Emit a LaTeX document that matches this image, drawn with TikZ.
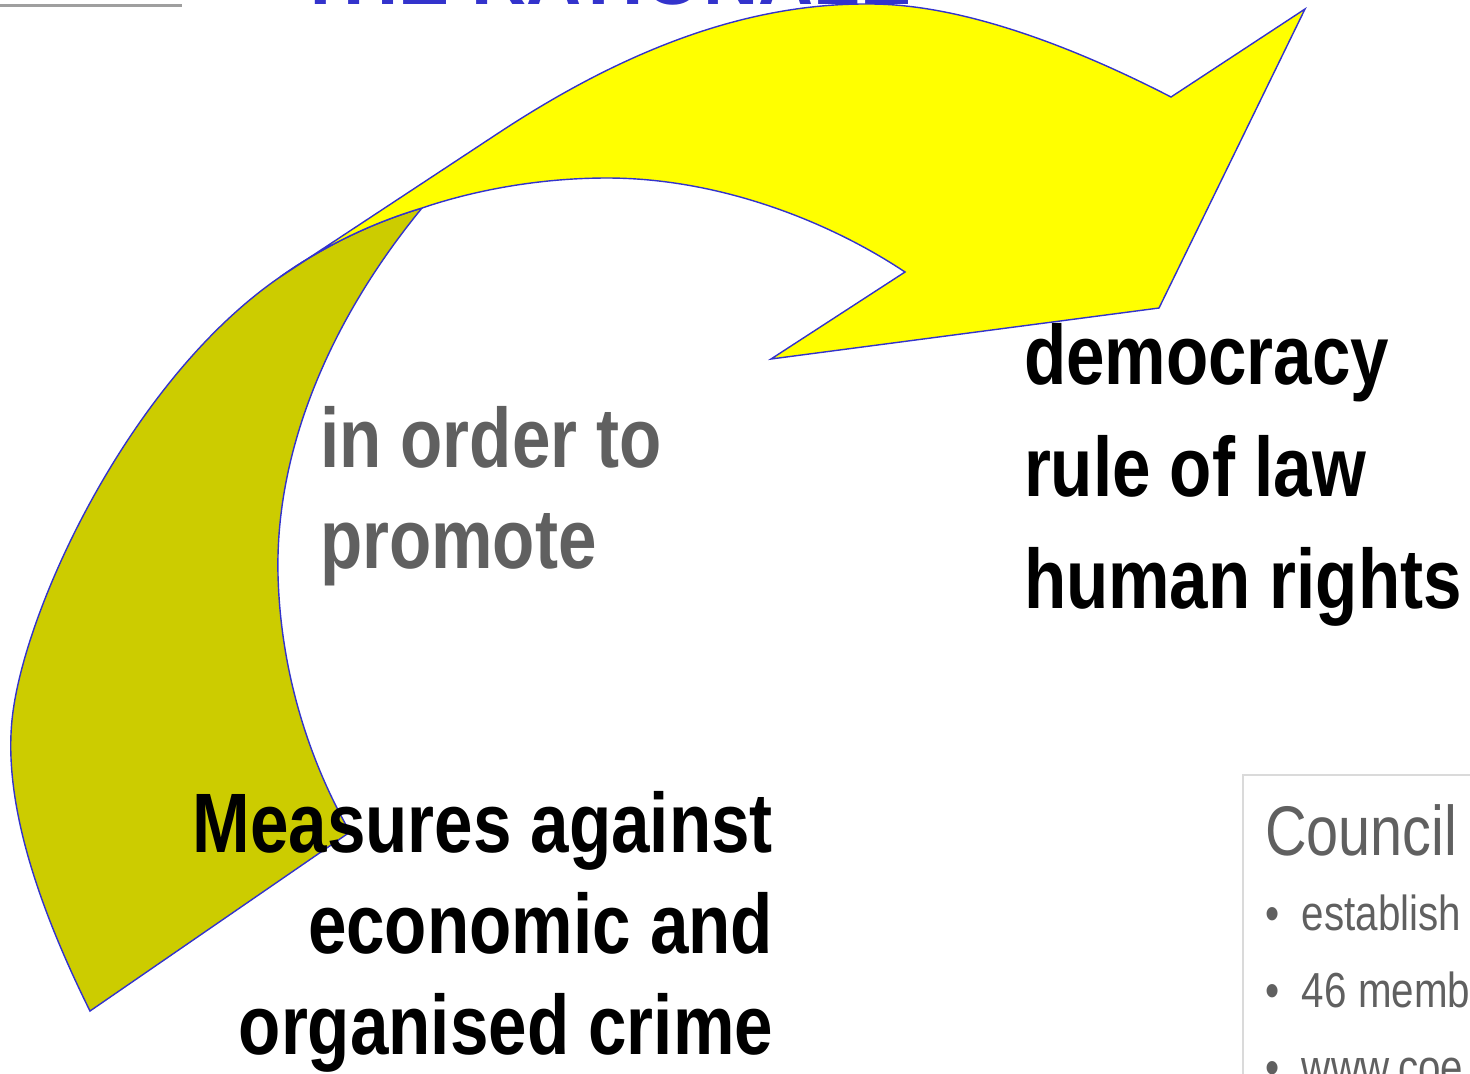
\documentclass[tikz,border=0pt]{standalone}
\usepackage{fontspec}
\setmainfont{Liberation Sans}
\newfontfamily\narrowfont[FakeStretch=0.82]{Liberation Sans}
\usetikzlibrary{positioning}
\definecolor{arrowyellow}{HTML}{FFFF00}
\definecolor{arrowshade}{HTML}{CCCC00}
\definecolor{arrowline}{HTML}{3333CC}
\definecolor{textgray}{HTML}{606060}
\definecolor{framegray}{HTML}{DADADA}
\newcommand{\infobullet}{\textbullet\hspace{13pt}}
\tikzset{
	every node/.append style={
		inner sep=0pt,
		outer sep=0pt,
	},
	heading/.append style={
		text=arrowline,
		font={\bfseries\fontsize{43.5}{50}\selectfont},
	},
	labe/.append style={
		font={\narrowfont\bfseries\fontsize{48}{57.3}\selectfont},
	},
	wide/.append style={
		font={\narrowfont\bfseries\fontsize{48}{63.5}\selectfont},
	},
	band/.append style={
		draw=arrowline,
		line width=0.8pt,
		line join=miter,
	},
	infobox/.append style={
		draw=framegray,
		line width=1.1pt,
	},
	infohead/.append style={
		text=textgray,
		font={\narrowfont\fontsize{40}{48}\selectfont},
	},
	infolist/.append style={
		text=textgray,
		align=left,
		font={\narrowfont\fontsize{28}{43.7}\selectfont},
	},
}

\begin{document}
\begin{tikzpicture}[x=0.02cm, y=-0.02cm]
\useasboundingbox (0,0) rectangle (1470,1073);

% header remains
\draw[draw=gray!75, line width=1.7pt] (0,5) -- (182,5);
\node[heading, anchor=base west] (title) at (297,4) {THE RATIONALE};

% back face of the arrow
\draw[band, fill=arrowshade] (280,277) .. controls (325,245) and (375,222) .. (422,208)
	.. controls (330,320) and (275,450) .. (278,575)
	.. controls (281,690) and (320,780) .. (350,832)
	-- (90,1011)
	.. controls (35,900) and (4,800) .. (12,720)
	.. controls (23,610) and (130,380) .. cycle;

% front face with the head
\draw[band, fill=arrowyellow] (280,277) -- (500,132)
	.. controls (640,40) and (760,3) .. (870,4)
	.. controls (960,4) and (1070,45) .. (1171,97)
	-- (1305,9) -- (1159,308) -- (771,359) -- (905,272)
	.. controls (830,222) and (720,178) .. (607,178)
	.. controls (540,178) and (475,190) .. (422,208)
	.. controls (375,222) and (325,245) .. cycle;

% base anchor of a block sits on its last line
\node[labe, text=textgray, anchor=base west, align=left] (link) at (320,568) {in order to\\promote};
\node[labe, anchor=base east, align=right] (means) at (773,1054) {Measures against\\economic and\\organised crime};
\node[wide, anchor=base west, align=left] (goal) at (1024,608) {democracy\\rule of law\\human rights};

% info box, cut by the page
\draw[infobox] (1243,775) rectangle (1490,1095);
\node[infohead, anchor=base west] (council) at (1265,855) {Council};
\node[infolist, anchor=base west] (facts) at (1265,1084) {\infobullet establish\\\infobullet 46 member\\\infobullet www.coe};
\end{tikzpicture}
\end{document}
